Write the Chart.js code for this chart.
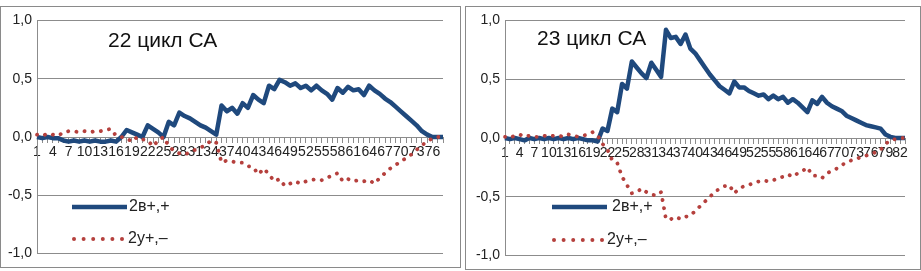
<!DOCTYPE html>
<html>
<head>
<meta charset="utf-8">
<script src="https://cdn.jsdelivr.net/npm/chart.js@4"></script>
<style>
    body { margin: 0; background: #fff; width: 921px; height: 271px; overflow: hidden; position: relative; }
    .panel { position: absolute; border: 1px solid #8a8a8a; background: #fff; box-sizing: border-box; }
    #p22 { left: 0; top: 6px; width: 461px; height: 262px; }
    #p23 { left: 465px; top: 6px; width: 456px; height: 264px; }
    canvas { position: absolute; left: 0; top: 0; }
</style>
</head>
<body>
<div class="panel" id="p22"><canvas id="chart22" width="459" height="260"></canvas></div>
<div class="panel" id="p23"><canvas id="chart23" width="454" height="262"></canvas></div>

<script>
// cycle 22: 78 points, cycle 23: 83 points
const labels22 = [];
for (let i = 1; i <= 78; i++) labels22.push(String(i));
const labels23 = [];
for (let i = 1; i <= 83; i++) labels23.push(String(i));

const yTickValues = [-1, -0.5, 0, 0.5, 1];

const blue22 = [0.0, -0.01, 0.0, -0.01, -0.01, -0.03, -0.04, -0.03, -0.04, -0.03,
    -0.04, -0.03, -0.04, -0.04, -0.03, -0.04, 0.0, 0.06, 0.04, 0.02,
    0.0, 0.10, 0.07, 0.04, 0.0, 0.13, 0.10, 0.21, 0.18, 0.16,
    0.13, 0.10, 0.08, 0.05, 0.02, 0.27, 0.22, 0.25, 0.20, 0.29,
    0.25, 0.36, 0.32, 0.29, 0.44, 0.41, 0.49, 0.47, 0.44, 0.46,
    0.42, 0.44, 0.40, 0.44, 0.40, 0.37, 0.32, 0.42, 0.38, 0.43,
    0.40, 0.41, 0.36, 0.44, 0.40, 0.37, 0.33, 0.30, 0.26, 0.22,
    0.18, 0.14, 0.10, 0.05, 0.02, 0.0, 0.0, 0.0];

const red22 = [0.02, 0.01, 0.03, 0.02, 0.01, 0.04, 0.05, 0.05, 0.04, 0.05,
    0.04, 0.05, 0.05, 0.06, 0.07, 0.01, 0.0, -0.01, -0.04, 0.0,
    -0.02, -0.03, -0.08, -0.03, 0.0, -0.08, -0.12, -0.14, -0.15, -0.13,
    -0.11, -0.09, -0.07, -0.03, -0.05, -0.22, -0.20, -0.21, -0.22, -0.22,
    -0.25, -0.26, -0.32, -0.27, -0.32, -0.38, -0.36, -0.42, -0.40, -0.38,
    -0.40, -0.38, -0.37, -0.36, -0.37, -0.35, -0.33, -0.31, -0.38, -0.36,
    -0.38, -0.37, -0.38, -0.37, -0.40, -0.35, -0.31, -0.27, -0.24, -0.21,
    -0.18, -0.15, -0.11, -0.07, -0.04, -0.01, 0.0, 0.0];

const blue23 = [0.0, -0.01, 0.0, -0.01, -0.02, 0.0, -0.01, 0.0, -0.01, 0.0,
    -0.01, 0.0, -0.01, 0.0, -0.01, 0.0, -0.01, -0.02, -0.02, -0.03,
    0.08, 0.06, 0.25, 0.22, 0.46, 0.42, 0.65, 0.60, 0.55, 0.51,
    0.64, 0.58, 0.52, 0.92, 0.85, 0.86, 0.80, 0.88, 0.76, 0.72,
    0.66, 0.60, 0.54, 0.49, 0.44, 0.41, 0.38, 0.48, 0.43, 0.43,
    0.40, 0.38, 0.36, 0.37, 0.33, 0.36, 0.33, 0.35, 0.30, 0.33,
    0.30, 0.26, 0.22, 0.32, 0.29, 0.35, 0.30, 0.27, 0.25, 0.23,
    0.19, 0.17, 0.15, 0.13, 0.11, 0.10, 0.09, 0.08, 0.03, 0.01,
    0.0, 0.0, 0.0];

const red23 = [0.01, 0.0, 0.02, 0.03, 0.01, 0.02, 0.01, 0.01, 0.02, 0.01,
    0.02, 0.02, 0.01, 0.03, 0.02, 0.01, 0.02, 0.03, 0.05, 0.02,
    -0.05, -0.10, -0.19, -0.21, -0.33, -0.40, -0.47, -0.46, -0.43, -0.46,
    -0.48, -0.49, -0.46, -0.69, -0.69, -0.67, -0.69, -0.67, -0.66, -0.62,
    -0.58, -0.54, -0.50, -0.46, -0.43, -0.41, -0.40, -0.47, -0.43, -0.41,
    -0.40, -0.38, -0.37, -0.36, -0.37, -0.36, -0.34, -0.33, -0.31, -0.33,
    -0.30, -0.28, -0.25, -0.32, -0.32, -0.34, -0.30, -0.28, -0.26, -0.23,
    -0.21, -0.19, -0.18, -0.16, -0.15, -0.14, -0.12, -0.10, -0.05, -0.02,
    -0.01, 0.0, 0.0];

const BLUE = '#1F497D';
const RED = '#B5403D';
const GRID = '#8c8c8c';
const FONT = "'Liberation Sans', Arial, sans-serif";

// title + legend drawn inside the plot, like the Excel original
const overlayPlugin = {
    id: 'overlay',
    afterDatasetsDraw(chart, args, opts) {
        const ctx = chart.ctx;
        ctx.save();
        ctx.fillStyle = '#111';
        ctx.font = '21px ' + FONT;
        ctx.textBaseline = 'alphabetic';
        ctx.fillText(opts.title, opts.titleX, opts.titleY);

        const L = opts.legend;
        ctx.strokeStyle = BLUE;
        ctx.lineWidth = 4.5;
        ctx.beginPath();
        ctx.moveTo(L.x, L.y1);
        ctx.lineTo(L.x + 55, L.y1);
        ctx.stroke();

        ctx.fillStyle = RED;
        for (let k = 0; k < 6; k++) {
            ctx.beginPath();
            ctx.arc(L.x + 2 + k * 9.6, L.y2, 2.0, 0, Math.PI * 2);
            ctx.fill();
        }

        ctx.fillStyle = '#222';
        ctx.font = '16px ' + FONT;
        ctx.textBaseline = 'middle';
        ctx.fillText('2в+,+', L.t1, L.y1);
        ctx.fillText('2у+,–', L.t2, L.y2);
        ctx.restore();
    }
};

function makeChart(id, labels, blue, red, overlay, padRight, padBottom, yWidth) {
    return new Chart(document.getElementById(id), {
        type: 'line',
        data: {
            labels: labels,
            datasets: [
                {
                    label: '2в+,+',
                    data: blue,
                    borderColor: BLUE,
                    borderWidth: 4.5,
                    borderJoinStyle: 'round',
                    pointRadius: 0,
                    tension: 0,
                    order: 1
                },
                {
                    label: '2у+,–',
                    data: red,
                    borderColor: RED,
                    borderWidth: 3.8,
                    borderDash: [0.1, 8.2],
                    borderCapStyle: 'round',
                    pointRadius: 0,
                    tension: 0,
                    order: 0
                }
            ]
        },
        options: {
            responsive: false,
            animation: false,
            devicePixelRatio: 1,
            layout: { padding: { left: 0, top: 12, right: padRight, bottom: padBottom } },
            plugins: {
                legend: { display: false },
                tooltip: { enabled: false },
                overlay: overlay
            },
            scales: {
                x: {
                    type: 'category',
                    position: { y: 0 },
                    grid: { drawOnChartArea: false, drawTicks: true, tickLength: 5, color: GRID },
                    border: { display: true, color: GRID },
                    ticks: {
                        autoSkip: false,
                        maxRotation: 0,
                        minRotation: 0,
                        padding: 2,
                        color: '#222',
                        font: { family: FONT, size: 14 },
                        callback: function (v, i) {
                            return i % 3 === 0 ? this.getLabelForValue(v) : '';
                        }
                    }
                },
                y: {
                    min: -1,
                    max: 1,
                    afterBuildTicks: s => { s.ticks = yTickValues.map(v => ({ value: v })); },
                    afterFit: s => { s.width = yWidth; },
                    grid: { color: GRID, drawTicks: false },
                    border: { display: true, color: GRID },
                    ticks: {
                        padding: 5,
                        color: '#222',
                        font: { family: FONT, size: 14 },
                        callback: v => v.toFixed(1).replace('.', ',')
                    }
                }
            }
        },
        plugins: [overlayPlugin]
    });
}

makeChart('chart22', labels22, blue22, red22, {
    title: '22 цикл СА', titleX: 107, titleY: 40,
    legend: { x: 71, y1: 200, t1: 128, y2: 232, t2: 127 }
}, 17, 11, 36);

makeChart('chart23', labels23, blue23, red23, {
    title: '23 цикл СА', titleX: 71, titleY: 38,
    legend: { x: 86, y1: 200, t1: 146, y2: 233, t2: 141 }
}, 15, 13, 39);
</script>
</body>
</html>
